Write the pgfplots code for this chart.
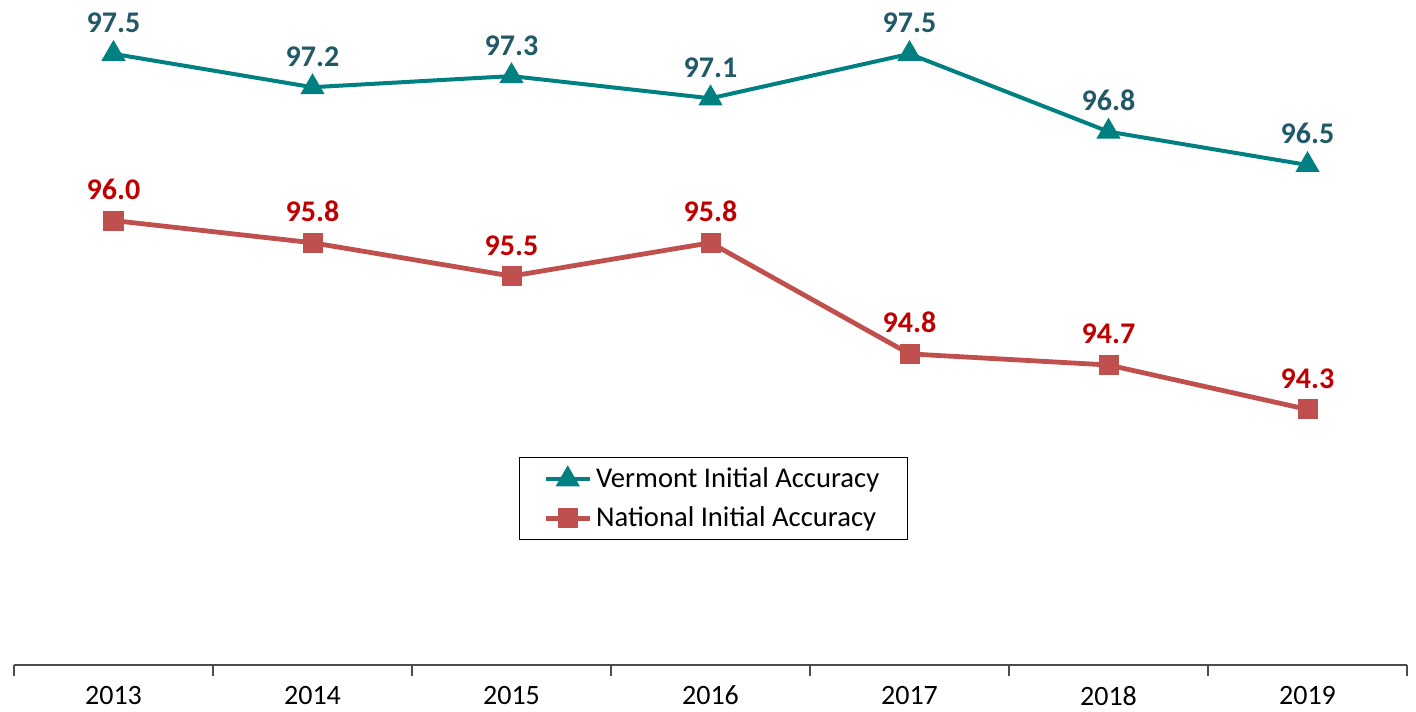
\documentclass[border=0pt]{standalone}
\usepackage{pgfplots}
\pgfplotsset{compat=1.18}
\usepackage{fontspec}
\setmainfont{Carlito}
\definecolor{vtline}{RGB}{0,128,128}
\definecolor{vtlab}{RGB}{33,89,104}
\definecolor{nline}{RGB}{192,80,77}
\definecolor{nlab}{RGB}{192,0,0}
\begin{document}
\begin{tikzpicture}
\useasboundingbox (-7pt,-23pt) rectangle (701pt,332.5pt);
\begin{axis}[
  at={(0pt,0pt)}, anchor=south west,
  scale only axis,
  width=696.5pt, height=332.5pt,
  xmin=-0.5, xmax=6.5,
  ymin=92, ymax=97.985,
  axis x line=bottom, axis y line=none,
  axis line style={-, black!70, line width=0.8pt},
  xtick={0,...,6},
  xticklabels={2013,2014,2015,2016,2017,2018,2019},
  major tick length=0pt,
  minor xtick={-0.5,0.5,...,6.5},
  minor tick length=5.5pt,
  tick align=outside,
  minor tick style={black!70, line width=0.8pt},
  xticklabel style={font=\fontsize{14}{16}\selectfont, yshift=-7pt},
  clip=false,
  legend style={at={(0.502,0.25)}, anchor=center, draw=black, line width=0.6pt,
    font=\fontsize{14.3}{17}\selectfont, row sep=4pt, inner xsep=12pt, inner ysep=3pt},
  legend cell align=left,
  legend image code/.code={\draw[#1] (0pt,0pt) -- (11pt,0pt) -- (22pt,0pt); \path[#1, mark repeat=2, mark phase=2] plot coordinates {(0pt,0pt) (11pt,0pt) (22pt,0pt)};},
  nodes near coords={\pgfmathprintnumber[fixed,fixed zerofill,precision=1,assume math mode=true]{\pgfplotspointmeta}},
  every node near coord/.append style={font=\bfseries\fontsize{15}{17}\selectfont, inner sep=0pt, anchor=base, yshift=10.5pt},
]
\addplot[color=vtline, line width=2pt, mark=triangle*, mark size=5pt, mark options={solid},
  every node near coord/.append style={text=vtlab}]
  coordinates {(0,97.5) (1,97.2) (2,97.3) (3,97.1) (4,97.5) (5,96.8) (6,96.5)};
\addlegendentry{Vermont Initial Accuracy}
\addplot[color=nline, line width=2.4pt, mark=square*, mark size=3.8pt, mark options={solid},
  every node near coord/.append style={text=nlab}]
  coordinates {(0,96.0) (1,95.8) (2,95.5) (3,95.8) (4,94.8) (5,94.7) (6,94.3)};
\addlegendentry{National Initial Accuracy}
\end{axis}
\end{tikzpicture}
\end{document}
